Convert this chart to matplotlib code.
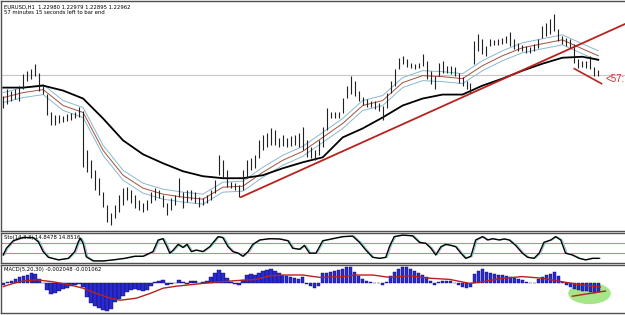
import matplotlib
matplotlib.use("Agg")
import matplotlib.pyplot as plt
import matplotlib.transforms as mtransforms
from matplotlib.patches import Ellipse
import numpy as np

# EURUSD H1 bars (high / low), one per bar
highs = [1.2275, 1.2282, 1.2280, 1.2282, 1.2285, 1.2297, 1.2300, 1.2302, 1.2307, 1.2298,
         1.2285, 1.2277, 1.2258, 1.2255, 1.2255, 1.2254, 1.2256, 1.2257, 1.2258, 1.2264,
         1.2260, 1.2220, 1.2210, 1.2200, 1.2192, 1.2178, 1.2165, 1.2157, 1.2165, 1.2175,
         1.2182, 1.2183, 1.2180, 1.2175, 1.2170, 1.2167, 1.2170, 1.2178, 1.2182, 1.2180,
         1.2175, 1.2167, 1.2172, 1.2175, 1.2192, 1.2178, 1.2180, 1.2180, 1.2178, 1.2173,
         1.2172, 1.2175, 1.2180, 1.2190, 1.2215, 1.2210, 1.2200, 1.2188, 1.2187, 1.2185,
         1.2200, 1.2210, 1.2212, 1.2215, 1.2230, 1.2235, 1.2237, 1.2242, 1.2240, 1.2232,
         1.2235, 1.2232, 1.2234, 1.2235, 1.2237, 1.2243, 1.2230, 1.2223, 1.2220, 1.2230,
         1.2243, 1.2263, 1.2258, 1.2258, 1.2259, 1.2273, 1.2285, 1.2295, 1.2290, 1.2280,
         1.2274, 1.2272, 1.2270, 1.2270, 1.2268, 1.2265, 1.2278, 1.2290, 1.2302, 1.2313,
         1.2315, 1.2312, 1.2308, 1.2307, 1.2308, 1.2317, 1.2310, 1.2300, 1.2295, 1.2308,
         1.2310, 1.2305, 1.2305, 1.2304, 1.2298, 1.2294, 1.2290, 1.2288, 1.2330, 1.2337,
         1.2332, 1.2325, 1.2332, 1.2331, 1.2332, 1.2333, 1.2335, 1.2339, 1.2332, 1.2328,
         1.2326, 1.2325, 1.2324, 1.2327, 1.2332, 1.2345, 1.2348, 1.2352, 1.2357, 1.2342,
         1.2335, 1.2333, 1.2332, 1.2327, 1.2312, 1.2310, 1.2310, 1.2315, 1.2304, 1.2301]
lows = [1.2263, 1.2267, 1.2270, 1.2272, 1.2270, 1.2282, 1.2290, 1.2292, 1.2295, 1.2280,
        1.2277, 1.2255, 1.2245, 1.2245, 1.2247, 1.2248, 1.2249, 1.2250, 1.2252, 1.2253,
        1.2203, 1.2198, 1.2192, 1.2180, 1.2175, 1.2163, 1.2148, 1.2145, 1.2152, 1.2158,
        1.2165, 1.2170, 1.2167, 1.2162, 1.2160, 1.2158, 1.2160, 1.2167, 1.2170, 1.2172,
        1.2163, 1.2155, 1.2160, 1.2165, 1.2173, 1.2162, 1.2168, 1.2170, 1.2167, 1.2163,
        1.2165, 1.2167, 1.2170, 1.2177, 1.2195, 1.2192, 1.2183, 1.2182, 1.2180, 1.2173,
        1.2180, 1.2192, 1.2200, 1.2202, 1.2212, 1.2220, 1.2223, 1.2225, 1.2225, 1.2223,
        1.2224, 1.2223, 1.2224, 1.2225, 1.2223, 1.2220, 1.2213, 1.2212, 1.2210, 1.2215,
        1.2223, 1.2240, 1.2252, 1.2252, 1.2252, 1.2257, 1.2273, 1.2277, 1.2275, 1.2270,
        1.2266, 1.2264, 1.2264, 1.2262, 1.2260, 1.2250, 1.2263, 1.2278, 1.2285, 1.2302,
        1.2307, 1.2304, 1.2303, 1.2302, 1.2303, 1.2305, 1.2292, 1.2287, 1.2282, 1.2295,
        1.2298, 1.2298, 1.2297, 1.2295, 1.2288, 1.2285, 1.2282, 1.2278, 1.2307, 1.2320,
        1.2317, 1.2315, 1.2325, 1.2326, 1.2326, 1.2327, 1.2328, 1.2325, 1.2322, 1.2320,
        1.2320, 1.2318, 1.2318, 1.2320, 1.2323, 1.2333, 1.2335, 1.2337, 1.2340, 1.2330,
        1.2327, 1.2325, 1.2323, 1.2308, 1.2303, 1.2304, 1.2303, 1.2302, 1.2295, 1.2295]

# moving averages, read every 5 bars
ma_bars = [0, 5, 10, 15, 20, 25, 30, 35, 40, 45, 50, 55, 60, 65, 70, 75, 80, 85, 90, 95,
           100, 105, 110, 115, 120, 125, 130, 135, 140, 145, 149]
ma_slow = [1.2283, 1.2283, 1.2285, 1.2280, 1.2272, 1.2252, 1.2230, 1.2216, 1.2207, 1.2199,
           1.2194, 1.2192, 1.2192, 1.2195, 1.2202, 1.2208, 1.2213, 1.2233, 1.2242, 1.2253,
           1.2265, 1.2272, 1.2276, 1.2276, 1.2285, 1.2292, 1.2300, 1.2307, 1.2313, 1.2314, 1.2311]
ma_mid = [1.2273, 1.2278, 1.2281, 1.2265, 1.2258, 1.2220, 1.2195, 1.2182, 1.2176, 1.2173,
          1.2171, 1.2183, 1.2184, 1.2198, 1.2210, 1.2219, 1.2233, 1.2247, 1.2265, 1.2270,
          1.2288, 1.2295, 1.2294, 1.2292, 1.2305, 1.2315, 1.2323, 1.2327, 1.2331, 1.2322, 1.2315]
ma_upper = [1.2278, 1.2283, 1.2286, 1.2270, 1.2263, 1.2225, 1.2200, 1.2187, 1.2181, 1.2178,
            1.2176, 1.2188, 1.2189, 1.2203, 1.2215, 1.2224, 1.2238, 1.2252, 1.2270, 1.2275,
            1.2293, 1.2300, 1.2299, 1.2297, 1.2310, 1.2320, 1.2328, 1.2332, 1.2336, 1.2327, 1.2320]
ma_lower = [1.2268, 1.2273, 1.2276, 1.2260, 1.2253, 1.2215, 1.2190, 1.2177, 1.2171, 1.2168,
            1.2166, 1.2178, 1.2179, 1.2193, 1.2205, 1.2214, 1.2228, 1.2242, 1.2260, 1.2265,
            1.2283, 1.2290, 1.2289, 1.2287, 1.2300, 1.2310, 1.2318, 1.2322, 1.2326, 1.2317, 1.2310]

# drawn trend lines (bar, price)
trend_up = [(59.5, 1.2173), (156.3, 1.2348)]
trend_down = [(143.0, 1.2302), (149.8, 1.2287)]
bid_price = 1.2296

# stochastic
stoch_bars = [0, 0.8, 2.5, 5, 7.5, 8.8, 10, 11.3, 13.8, 16.3, 17.9, 18.8, 19.3, 20, 20.8, 22.5,
              25, 27.5, 30.4, 32.9, 35, 37.5, 38.8, 40, 41, 41.7, 42.5, 43.8, 45, 46, 47.1, 48.3,
              50, 51.7, 53.8, 55, 56.3, 57.5, 58.8, 60, 61.3, 62.5, 64.2, 66.7, 69.2, 71.3, 72.5,
              74.2, 75.4, 76.7, 78.3, 80, 82.5, 85, 87.5, 89.2, 90.8, 92.5, 94.2, 95.8, 96.7,
              97.9, 100, 102.5, 104.2, 105.8, 107.1, 108.3, 109.6, 110.8, 112.1, 113.3, 114.6,
              115.8, 117.1, 118.3, 120, 121.3, 122.5, 124.2, 125.4, 126.7, 128.3, 130, 131.3,
              132.9, 134.2, 135.4, 137.1, 138.3, 139.6, 140.8, 142.5, 144.2, 145.8, 147.5, 149.2]
stoch_main = [23, 49, 78, 91, 90, 74, 36, 14, 4, 10, 36, 74, 88, 68, 16, 0,
              0, 4, 10, 18, 18, 36, 81, 86, 55, 30, 41, 64, 52, 64, 36, 42,
              36, 55, 94, 90, 55, 36, 30, 18, 36, 64, 81, 86, 85, 78, 49,
              45, 60, 30, 30, 78, 86, 94, 96, 72, 42, 14, 10, 14, 55,
              94, 100, 97, 72, 68, 49, 23, 55, 64, 60, 55, 30,
              10, 18, 81, 94, 81, 86, 81, 85, 81, 60, 30, 14,
              10, 30, 72, 81, 94, 81, 30, 23, 10, 4, 10, 10]
stoch_levels = [70, 30]

# MACD histogram (one per bar) and signal line
macd_hist = [-0.0005, 0.0003, 0.0006, 0.0010, 0.0014, 0.0018, 0.0021, 0.0025, 0.0022, 0.0010,
             -0.0001, -0.0018, -0.0028, -0.0025, -0.0020, -0.0016, -0.0012, -0.0008, -0.0006, -0.0003,
             -0.0010, -0.0035, -0.0050, -0.0058, -0.0062, -0.0068, -0.0071, -0.0065, -0.0048, -0.0040,
             -0.0032, -0.0023, -0.0018, -0.0015, -0.0018, -0.0020, -0.0018, -0.0008, 0.0003, 0.0005,
             0.0008, -0.0004, -0.0003, -0.0001, 0.0008, 0.0003, -0.0003, 0.0005, 0.0005, -0.0001,
             0.0002, 0.0005, 0.0015, 0.0025, 0.0032, 0.0025, 0.0012, 0.0003, -0.0003, -0.0005,
             0.0008, 0.0020, 0.0022, 0.0021, 0.0025, 0.0030, 0.0032, 0.0034, 0.0030, 0.0025,
             0.0020, 0.0018, 0.0015, 0.0012, 0.0011, 0.0015, -0.0003, -0.0008, -0.0012, -0.0008,
             0.0024, 0.0025, 0.0028, 0.0030, 0.0032, 0.0036, 0.0039, 0.0040, 0.0028, 0.0018,
             0.0010, 0.0005, 0.0002, 0.0001, -0.0001, -0.0005, 0.0003, 0.0018, 0.0028, 0.0035,
             0.0040, 0.0041, 0.0035, 0.0030, 0.0025, 0.0020, 0.0015, 0.0005, -0.0004, 0.0003,
             0.0005, 0.0004, 0.0005, -0.0001, -0.0006, -0.0010, -0.0013, -0.0010, 0.0022, 0.0029,
             0.0034, 0.0028, 0.0024, 0.0022, 0.0020, 0.0019, 0.0018, 0.0015, 0.0012, 0.0010,
             0.0008, 0.0003, 0.0001, 0.0001, 0.0010, 0.0015, 0.0020, 0.0022, 0.0028, 0.0018,
             0.0003, -0.0005, -0.0010, -0.0015, -0.0018, -0.0020, -0.0021, -0.0022, -0.0024, -0.0022]
signal_bars = [0, 2.5, 5, 8.3, 12.5, 16.8, 20, 23.3, 26.8, 29.3, 33.3, 36.8, 40, 43.3, 50,
               54.3, 58.3, 63.3, 66.8, 70.8, 75, 79.3, 85, 88.3, 92.5, 96.8, 101.8, 106.8,
               111.8, 116.8, 120, 125, 130, 135, 140, 145, 149.5]
macd_signal = [-0.0009, -0.0001, 0.0005, 0.0008, 0.0003, -0.0005, -0.0013, -0.0026, -0.0038,
               -0.0043, -0.0038, -0.0026, -0.0013, -0.0008, -0.0001, 0.0003, 0.0006, 0.0009,
               0.0018, 0.0020, 0.0020, 0.0014, 0.0016, 0.0020, 0.0020, 0.0014, 0.0018, 0.0012,
               0.0009, -0.0001, 0.0003, 0.0012, 0.0016, 0.0012, 0.0003, -0.0005, -0.0010]
macd_trend = [(142.5, -0.0033), (150.8, -0.0020)]

bars = np.arange(len(highs))

fig = plt.figure(figsize=(6.25, 3.15), dpi=100)
fig.patch.set_facecolor("white")

ax = fig.add_axes([0.002, 0.2667, 1.0, 0.7302])
ax_st = fig.add_axes([0.002, 0.1651, 1.0, 0.0952])
ax_md = fig.add_axes([0.002, 0.0063, 1.0, 0.1524])

for a in (ax, ax_st, ax_md):
    a.set_xlim(-0.5, 156)
    a.set_xticks([])
    a.set_yticks([])
    for s in a.spines.values():
        s.set_color("#505050")
        s.set_linewidth(1.0)
    a.spines["right"].set_visible(False)

# price panel
ax.set_ylim(1.2139, 1.2370)
ax.axhline(bid_price, color="#c8c8c8", lw=0.8, zorder=1)
ax.plot(ma_bars, ma_upper, color="#8ab8cc", lw=0.7, zorder=2)
ax.plot(ma_bars, ma_lower, color="#8ab8cc", lw=0.7, zorder=2)
ax.plot(ma_bars, ma_mid, color="#a0503c", lw=0.7, zorder=2)
ax.plot(ma_bars, ma_slow, color="black", lw=1.3, zorder=3)
ax.vlines(bars, lows, highs, color="#202020", lw=0.8, zorder=4)
ax.plot(*zip(*trend_up), color="#b8221e", lw=1.3, zorder=5)
ax.plot(*zip(*trend_down), color="#b8221e", lw=1.2, zorder=5)
ax.text(0.004, 0.985, "EURUSD,H1  1.22980 1.22979 1.22895 1.22962",
        transform=ax.transAxes, fontsize=3.8, va="top", ha="left")
ax.text(0.004, 0.96, "57 minutes 15 seconds left to bar end",
        transform=ax.transAxes, fontsize=3.8, va="top", ha="left")
ax.text(150.8, 1.2292, "<57:", color="#c0302a", fontsize=7, va="center", ha="left",
        family="Liberation Sans")

# stochastic panel
ax_st.set_ylim(-8, 108)
for lvl in stoch_levels:
    ax_st.axhline(lvl, color="#c08a8a", lw=0.8)
shift = mtransforms.offset_copy(ax_st.transData, fig=fig, x=1.5, y=0, units="dots")
ax_st.plot(stoch_bars, stoch_main, color="#8ec4c8", lw=0.8, transform=shift)
ax_st.plot(stoch_bars, stoch_main, color="black", lw=1.0)
ax_st.text(0.004, 0.93, "Sto(14,3,3) 14.8478 14.8516", transform=ax_st.transAxes,
           fontsize=3.8, va="top", ha="left")

# MACD panel
ax_md.set_ylim(-0.0075, 0.0045)
ax_md.add_patch(Ellipse((146.8, -0.0026), 10.3, 0.005, color="#a6e68a", zorder=1))
ax_md.bar(bars, macd_hist, width=0.85, color="#2a2ad0", edgecolor="#0a0a60",
          linewidth=0.3, zorder=2)
ax_md.plot(signal_bars, macd_signal, color="#b8221e", lw=1.0, zorder=3)
ax_md.plot(*zip(*macd_trend), color="#b8221e", lw=1.0, zorder=4)
ax_md.text(0.004, 0.95, "MACD(5,20,30) -0.002048 -0.001062", transform=ax_md.transAxes,
           fontsize=3.8, va="top", ha="left")

fig.savefig("out.png", dpi=100)
